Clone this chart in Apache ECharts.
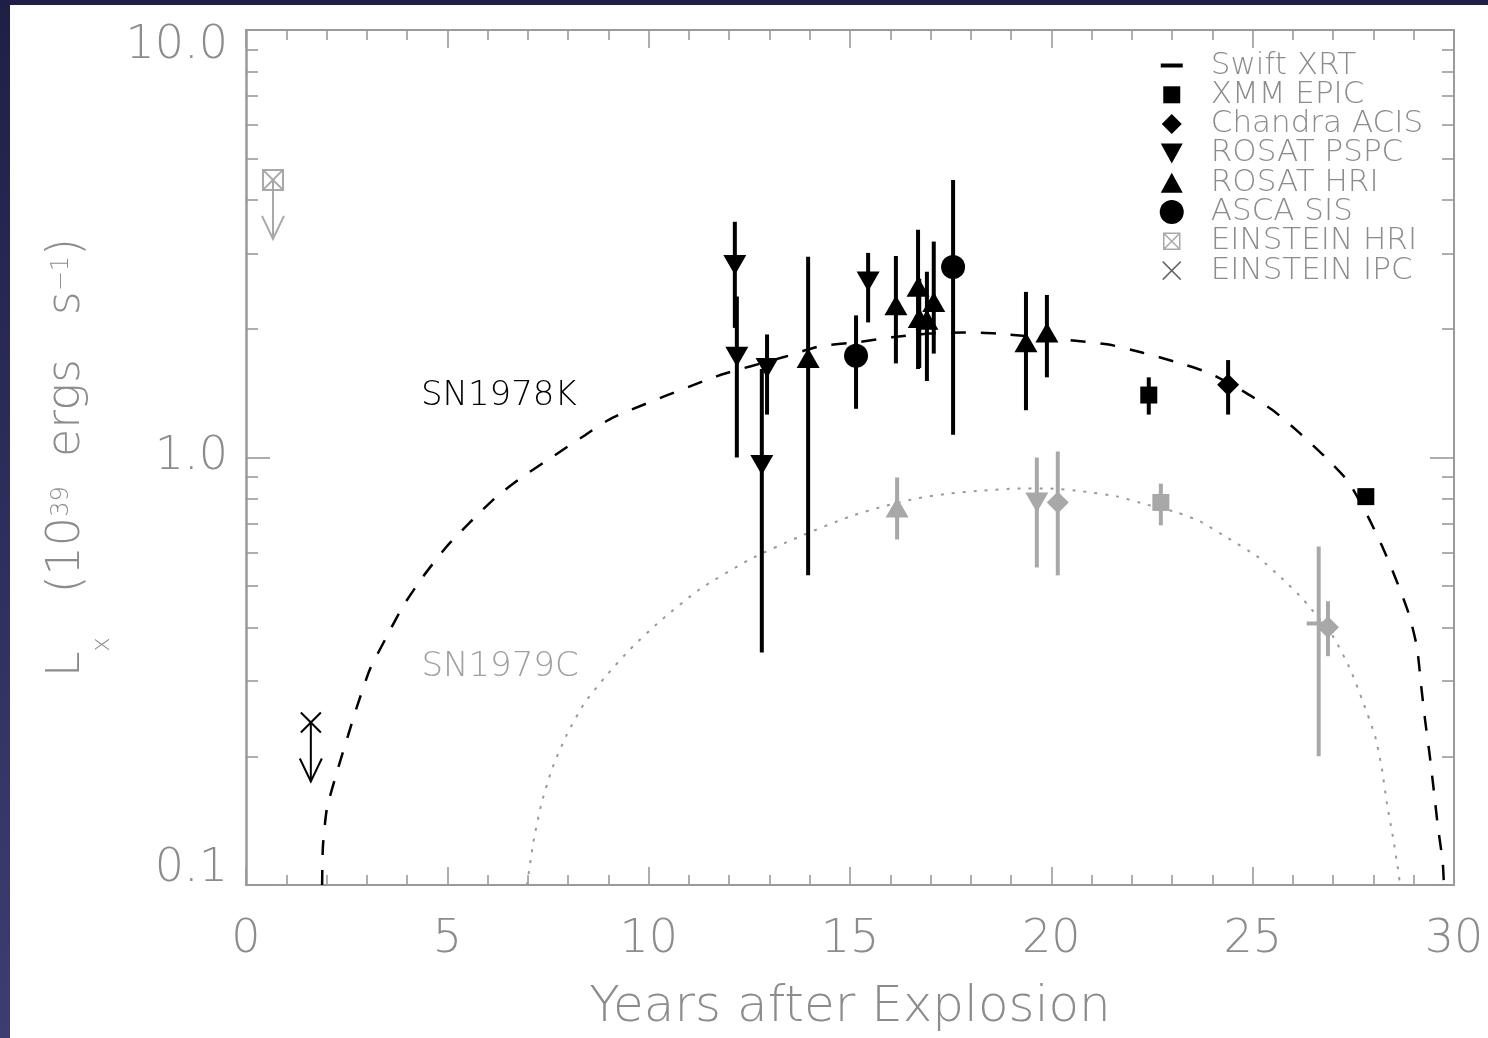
<!DOCTYPE html>
<html>
<head>
<meta charset="utf-8">
<script src="https://cdn.jsdelivr.net/npm/echarts@6/dist/echarts.min.js"></script>
<style>
  html, body { margin: 0; padding: 0; width: 1488px; height: 1038px; overflow: hidden;
    background: linear-gradient(to bottom, #1f1f46, #3d3d72); }
  #chart { position: absolute; left: 10px; top: 5px; width: 1478px; height: 1033px; background: #fff; }
</style>
</head>
<body>
<div id="chart"></div>
<script>
// ---- Axis ticks ----
const xRange = [0, 30];
const yTickVals = [0.1, 1, 10];
const yTickText = ['0.1', '1.0', '10.0'];
const yMinorVals = [0.2, 0.3, 0.4, 0.5, 0.6, 0.7, 0.8, 0.9, 2, 3, 4, 5, 6, 7, 8, 9];

// ---- SN1978K detections: [years, Lx, Lx low, Lx high] (10^39 erg/s) ----
const k78Xmm     = [[22.42, 1.40, 1.26, 1.54], [27.81, 0.81, 0.78, 0.84]];
const k78Chandra = [[24.39, 1.48, 1.26, 1.69]];
const k78Pspc    = [[12.14, 2.82, 2.01, 3.56], [12.19, 1.72, 1.00, 2.38],
                    [12.94, 1.62, 1.26, 1.94], [12.81, 0.96, 0.35, 1.61],
                    [15.45, 2.58, 2.07, 3.01]];
const k78Hri     = [[13.96, 1.71, 0.53, 2.95], [16.14, 2.27, 1.66, 2.96],
                    [16.69, 2.51, 1.61, 3.41], [16.72, 2.12, 1.62, 2.62],
                    [16.91, 2.10, 1.51, 2.72], [17.08, 2.31, 1.75, 3.20],
                    [19.37, 1.86, 1.29, 2.44], [19.89, 1.96, 1.54, 2.40]];
const k78Asca    = [[15.15, 1.73, 1.30, 2.15], [17.56, 2.79, 1.13, 4.46]];
// upper limit: [years, Lx]
const k78EinsteinIpc = [[1.61, 0.24]];

// ---- SN1979C detections ----
const c79Swift   = [[26.64, 0.409, 0.200, 0.619]];
const c79Xmm     = [[22.72, 0.785, 0.694, 0.869]];
const c79Chandra = [[20.16, 0.785, 0.530, 1.033], [26.87, 0.401, 0.343, 0.461]];
const c79Pspc    = [[19.64, 0.785, 0.553, 1.000]];
const c79Hri     = [[16.17, 0.764, 0.643, 0.898]];
const c79EinsteinHri = [[0.67, 4.46]];

// ---- Light-curve models: [years, Lx] ----
const k78Model = [
  [1.89, 0.100], [1.91, 0.123], [2.01, 0.151], [2.26, 0.184], [2.53, 0.223],
  [2.76, 0.262], [3.08, 0.320], [3.50, 0.382], [3.90, 0.449], [4.40, 0.527],
  [4.99, 0.620], [5.56, 0.705], [6.23, 0.811], [6.88, 0.903], [7.62, 1.005],
  [8.37, 1.12], [9.11, 1.24], [11.70, 1.55], [13.38, 1.72], [14.25, 1.82],
  [15.17, 1.86], [16.04, 1.91], [16.99, 1.95], [17.80, 1.96], [18.65, 1.95],
  [21.38, 1.84], [22.25, 1.76], [23.12, 1.67], [23.89, 1.58], [24.76, 1.43],
  [25.50, 1.29], [26.17, 1.14], [26.79, 1.005], [27.37, 0.879], [27.86, 0.728],
  [28.23, 0.616], [28.58, 0.513], [28.88, 0.430], [29.08, 0.360], [29.18, 0.295],
  [29.28, 0.244], [29.40, 0.200], [29.50, 0.166], [29.60, 0.137], [29.72, 0.113],
  [29.75, 0.100]
];
const c79Model = [
  [6.98, 0.100], [7.13, 0.125], [7.33, 0.154], [7.60, 0.187], [7.95, 0.223],
  [8.39, 0.265], [8.91, 0.306], [9.54, 0.356], [10.28, 0.414], [11.27, 0.492],
  [12.52, 0.578], [13.76, 0.654], [15.00, 0.728], [15.82, 0.768], [16.66, 0.802],
  [17.48, 0.824], [18.30, 0.837], [19.15, 0.846], [19.97, 0.846], [20.78, 0.833],
  [21.63, 0.811], [22.37, 0.776], [23.12, 0.744], [23.69, 0.709], [24.36, 0.650],
  [25.11, 0.587], [25.75, 0.519], [26.25, 0.466], [26.99, 0.382], [27.42, 0.320],
  [27.74, 0.268], [28.04, 0.223], [28.21, 0.187], [28.33, 0.156], [28.48, 0.130],
  [28.61, 0.109], [28.66, 0.100]
];

const labelK78 = { text: 'SN1978K', at: [6.28, 1.39] };
const labelC79 = { text: 'SN1979C', at: [6.31, 0.323] };

// ---- styling ----
const FONT = '"DejaVu Sans", "Liberation Sans", sans-serif';
const TXT = '#8c8c8c';
const AXC = '#9a9a9a';
const BLACK = '#000000';
const GREY = '#a8a8a8';

function markers(name, rows, symbol, size, color, rotate) {
  return {
    type: 'scatter', name, symbol, symbolSize: size, symbolRotate: rotate || 0,
    data: rows.map(r => [r[0], r[1]]),
    itemStyle: { color, opacity: 1 }, z: 6, silent: true
  };
}

function errorBars(rows, color) {
  return {
    type: 'custom', silent: true, z: 5,
    data: rows.map(r => [r[0], r[2], r[3]]),
    renderItem: (params, api) => {
      const a = api.coord([api.value(0), api.value(1)]);
      const b = api.coord([api.value(0), api.value(2)]);
      return { type: 'line', shape: { x1: a[0], y1: a[1], x2: b[0], y2: b[1] },
               style: { stroke: color, lineWidth: 4 } };
    }
  };
}

// upper limit: symbol plus a downward arrow
function upperLimit(name, rows, color, boxed) {
  return {
    type: 'custom', name, silent: true, z: 6,
    data: rows.map(r => [r[0], r[1]]),
    renderItem: (params, api) => {
      const p = api.coord([api.value(0), api.value(1)]);
      const x = p[0], y = p[1];
      const s = 10;
      const st = { stroke: color, lineWidth: 2, fill: null };
      const kids = [
        { type: 'line', shape: { x1: x - s, y1: y - s, x2: x + s, y2: y + s }, style: st },
        { type: 'line', shape: { x1: x + s, y1: y - s, x2: x - s, y2: y + s }, style: st },
        { type: 'line', shape: { x1: x, y1: y, x2: x, y2: y + 59 }, style: st },
        { type: 'polyline', shape: { points: [[x - 11, y + 36], [x, y + 59], [x + 11, y + 36]] }, style: st }
      ];
      if (boxed) kids.push({ type: 'rect', shape: { x: x - s, y: y - s, width: 2 * s, height: 2 * s }, style: st });
      return { type: 'group', children: kids };
    }
  };
}

function curve(rows, color, dash, width, label) {
  return {
    type: 'line', data: rows, showSymbol: false, smooth: 0.2, silent: true, z: 3,
    lineStyle: { color, type: dash, width },
    markPoint: {
      symbol: 'circle', symbolSize: 0, silent: true,
      data: [{ coord: label.at, label: { show: true, position: 'inside', formatter: label.text,
               color: color === BLACK ? BLACK : '#a0a0a0', fontSize: 34, fontFamily: FONT, fontWeight: 300 } }]
    }
  };
}

const tickLine = { color: AXC, width: 1.6 };

function xAxisDef(pos, withLabels) {
  return {
    type: 'value', position: pos, min: xRange[0], max: xRange[1], interval: 5,
    axisLine: { show: true, lineStyle: { color: AXC, width: 2 } },
    axisTick: { show: true, inside: true, length: 18, lineStyle: tickLine },
    minorTick: { show: true, splitNumber: 5, length: 10, lineStyle: tickLine },
    splitLine: { show: false }, minorSplitLine: { show: false },
    axisLabel: withLabels
      ? { show: true, margin: 32, fontSize: 46, fontFamily: FONT, fontWeight: 200, color: TXT }
      : { show: false },
    name: withLabels ? 'Years after Explosion' : '',
    nameLocation: 'middle', nameGap: 98,
    nameTextStyle: { fontSize: 50, fontFamily: FONT, fontWeight: 200, color: TXT }
  };
}

function yAxisDef(pos, major, withLabels) {
  const ax = {
    type: 'log', logBase: 10, position: pos, min: 0.1, max: 10,
    axisLine: { show: major, lineStyle: { color: AXC, width: pos === 'left' ? 2.5 : 2 } },
    axisTick: { show: true, inside: true, length: major ? 24 : 12, lineStyle: tickLine,
                customValues: major ? yTickVals : yMinorVals },
    splitLine: { show: false },
    axisLabel: { show: false }
  };
  if (withLabels) {
    const base = { fontFamily: FONT, fontWeight: 200, color: TXT };
    ax.axisLabel = {
      show: true, margin: 18, customValues: yTickVals,
      formatter: v => {
        let i = 0;
        yTickVals.forEach((t, k) => { if (Math.abs(Math.log10(t) - Math.log10(v)) < 1e-6) i = k; });
        const key = i === 0 ? 'lo' : (i === yTickVals.length - 1 ? 'hi' : 'mid');
        return '{' + key + '|' + yTickText[i] + '}';
      },
      rich: {
        lo:  Object.assign({ fontSize: 46, padding: [0, 0, 32, 0] }, base),
        mid: Object.assign({ fontSize: 46 }, base),
        hi:  Object.assign({ fontSize: 46, padding: [32, 0, 0, 0] }, base)
      }
    };
    ax.name = '{n|L}{sub|x}{n|   (10}{sup|39}{n|  ergs   s}{sup|\u22121}{n|)}';
    ax.nameLocation = 'middle';
    ax.nameRotate = 90;
    ax.nameGap = 147;
    ax.nameTextStyle = Object.assign({
      fontSize: 46,
      rich: {
        n:   Object.assign({ fontSize: 46, lineHeight: 46 }, base),
        sup: Object.assign({ fontSize: 24, lineHeight: 24, padding: [0, 0, 10, 0] }, base),
        sub: Object.assign({ fontSize: 24, lineHeight: 24, padding: [72, 0, 0, 0] }, base)
      }
    }, base);
  }
  return ax;
}

const legendItems = [
  { name: 'Swift XRT', icon: 'path://M0,0M24,24M1,10H23V14H1Z', itemStyle: { color: BLACK } },
  { name: 'XMM EPIC', icon: 'path://M0,0M24,24M3.5,3.5H20.5V20.5H3.5Z', itemStyle: { color: BLACK } },
  { name: 'Chandra ACIS', icon: 'path://M0,0M24,24M12,2L22,12L12,22L2,12Z', itemStyle: { color: BLACK } },
  { name: 'ROSAT PSPC', icon: 'path://M0,0M24,24M1,2H23L12,22Z', itemStyle: { color: BLACK } },
  { name: 'ROSAT HRI', icon: 'path://M0,0M24,24M12,2L23,22H1Z', itemStyle: { color: BLACK } },
  { name: 'ASCA SIS', icon: 'circle', itemStyle: { color: BLACK } },
  { name: 'EINSTEIN HRI', icon: 'path://M0,0M24,24M4,4H20V20H4ZM4,4L20,20M20,4L4,20',
    itemStyle: { color: 'rgba(0,0,0,0)', borderColor: GREY, borderWidth: 1.5 } },
  { name: 'EINSTEIN IPC', icon: 'path://M0,0M24,24M3,3L21,21M21,3L3,21',
    itemStyle: { color: 'rgba(0,0,0,0)', borderColor: '#666', borderWidth: 1.5 } }
];

const series = [
  curve(k78Model, BLACK, [15, 15], 2.5, labelK78),
  curve(c79Model, '#999999', [3, 8], 2, labelC79),

  errorBars(c79Swift, GREY), markers('Swift XRT', c79Swift, 'rect', [24, 4], GREY),
  errorBars(k78Xmm, BLACK), markers('XMM EPIC', k78Xmm, 'rect', [17, 17], BLACK),
  errorBars(c79Xmm, GREY), markers('XMM EPIC', c79Xmm, 'rect', [17, 17], GREY),
  errorBars(k78Chandra, BLACK), markers('Chandra ACIS', k78Chandra, 'diamond', [22, 22], BLACK),
  errorBars(c79Chandra, GREY), markers('Chandra ACIS', c79Chandra, 'diamond', [22, 22], GREY),
  errorBars(k78Pspc, BLACK), markers('ROSAT PSPC', k78Pspc, 'triangle', [23, 20], BLACK, 180),
  errorBars(c79Pspc, GREY), markers('ROSAT PSPC', c79Pspc, 'triangle', [23, 20], GREY, 180),
  errorBars(k78Hri, BLACK), markers('ROSAT HRI', k78Hri, 'triangle', [23, 20], BLACK),
  errorBars(c79Hri, GREY), markers('ROSAT HRI', c79Hri, 'triangle', [23, 20], GREY),
  errorBars(k78Asca, BLACK), markers('ASCA SIS', k78Asca, 'circle', 24, BLACK),
  upperLimit('EINSTEIN HRI', c79EinsteinHri, GREY, true),
  upperLimit('EINSTEIN IPC', k78EinsteinIpc, BLACK, false)
];

const chart = echarts.init(document.getElementById('chart'), null, { renderer: 'canvas' });
chart.setOption({
  animation: false,
  backgroundColor: '#ffffff',
  grid: { left: 236, top: 25, right: 34, bottom: 152 },
  xAxis: [xAxisDef('bottom', true), xAxisDef('top', false)],
  yAxis: [yAxisDef('left', true, true), yAxisDef('left', false, false),
          yAxisDef('right', true, false), yAxisDef('right', false, false)],
  legend: {
    orient: 'vertical', left: 1144, top: 40, padding: 5,
    itemWidth: 24, itemHeight: 24, itemGap: -1.7, selectedMode: false,
    textStyle: { fontFamily: FONT, fontSize: 31, fontWeight: 200, color: TXT,
                 padding: [0, 0, 0, 22] },
    data: legendItems
  },
  series: series
});
</script>
</body>
</html>
